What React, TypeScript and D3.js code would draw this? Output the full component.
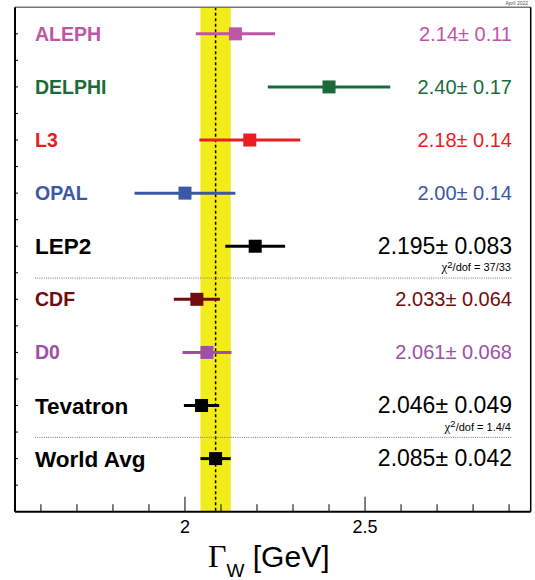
import * as d3 from "d3";

// measurements, top to bottom
const experiments = ["ALEPH", "DELPHI", "L3", "OPAL", "LEP2", "CDF", "D0", "Tevatron", "World Avg"];
const widths = [2.14, 2.4, 2.18, 2.0, 2.195, 2.033, 2.061, 2.046, 2.085];
const errors = [0.11, 0.17, 0.14, 0.14, 0.083, 0.064, 0.068, 0.049, 0.042];
const valueLabels = [
  "2.14± 0.11",
  "2.40± 0.17",
  "2.18± 0.14",
  "2.00± 0.14",
  "2.195± 0.083",
  "2.033± 0.064",
  "2.061± 0.068",
  "2.046± 0.049",
  "2.085± 0.042",
];
const chi2Labels = ["", "", "", "", "37/33", "", "", "1.4/4", ""];
const combined = [false, false, false, false, true, false, false, true, true];
const colors = ["#bf55a8", "#1b6b3a", "#ea1c24", "#3c57a6", "#000000", "#730b0b", "#9e4fa6", "#000000", "#000000"];
const separators = [4.4, 1.4];
const worldAvg = 2.085;
const worldErr = 0.042;
const xTickLabels = [2, 2.5];

const W = 535;
const H = 580;
const left = 15;
const right = 530.7;
const top = 7.3;
const bottom = 511.7;

export default function App() {
  const x = d3.scaleLinear().domain([1.528, 2.96]).range([left, right]);
  const y = d3.scaleLinear().domain([0, 9.5]).range([bottom, top]);
  const rowPos = (i: number) => y(experiments.length - i);

  const minorTicks = d3.range(1.6, 2.95, 0.1).map((v) => Math.round(v * 10) / 10);
  const yTicks = d3.range(0.5, 9.5, 0.5);

  const sans = "'Liberation Sans', Arial, Helvetica, sans-serif";
  const serif = "'Liberation Serif', 'Times New Roman', serif";

  return (
    <svg
      width={W}
      height={H}
      style={{ position: "absolute", left: 0, top: 0, background: "#fff" }}
      fontFamily={sans}
    >
      <rect width={W} height={H} fill="#fff" />
      <text x={528} y={5} fontSize={5} textAnchor="end" fill="#555">
        April 2022
      </text>

      {/* world average band */}
      <rect
        x={x(worldAvg - worldErr)}
        y={top}
        width={x(worldAvg + worldErr) - x(worldAvg - worldErr)}
        height={bottom - top}
        fill="#f3ec1b"
      />
      <line
        x1={x(worldAvg)}
        x2={x(worldAvg)}
        y1={top}
        y2={bottom}
        stroke="#000"
        strokeWidth={1.5}
        strokeDasharray="3,2.5"
      />

      {separators.map((s) => (
        <line
          key={s}
          x1={35}
          x2={512}
          y1={y(s)}
          y2={y(s)}
          stroke="#777"
          strokeWidth={1}
          strokeDasharray="1,1.2"
        />
      ))}

      {experiments.map((name, i) => {
        const cy = rowPos(i);
        const big = combined[i];
        return (
          <g key={name}>
            <line
              x1={x(widths[i] - errors[i])}
              x2={x(widths[i] + errors[i])}
              y1={cy}
              y2={cy}
              stroke={colors[i]}
              strokeWidth={3}
            />
            <rect x={x(widths[i]) - 6.5} y={cy - 6.5} width={13} height={13} fill={colors[i]} />
            <text
              x={35}
              y={cy}
              dy="0.36em"
              fontWeight="bold"
              fontSize={big ? 22.5 : 19.5}
              fill={colors[i]}
            >
              {name}
            </text>
            <text x={512} y={cy} dy="0.34em" fontSize={big ? 23 : 20} textAnchor="end" fill={colors[i]}>
              {valueLabels[i]}
            </text>
            {chi2Labels[i] && (
              <text x={511} y={cy + 25} textAnchor="end" fontSize={11} fill="#000">
                <tspan fontFamily={serif} fontSize={13}>
                  χ
                </tspan>
                <tspan dy={-3.5} fontSize={9.5}>
                  2
                </tspan>
                <tspan dy={3.5}>{"/dof = " + chi2Labels[i]}</tspan>
              </text>
            )}
          </g>
        );
      })}

      {/* axes ticks */}
      {minorTicks.map((t) => (
        <line
          key={t}
          x1={x(t)}
          x2={x(t)}
          y1={bottom}
          y2={bottom - (xTickLabels.includes(t) ? 15 : 7.5)}
          stroke="#000"
          strokeWidth={1}
        />
      ))}
      {yTicks.map((t) => (
        <line key={t} x1={left} x2={left + 3} y1={y(t)} y2={y(t)} stroke="#000" strokeWidth={1} />
      ))}
      {xTickLabels.map((t) => (
        <text key={t} x={x(t)} y={533} fontSize={18} textAnchor="middle" fill="#000">
          {t}
        </text>
      ))}

      {/* frame */}
      <line x1={left} x2={right} y1={top} y2={top} stroke="#777" strokeWidth={1.5} />
      <line x1={right} x2={right} y1={top} y2={bottom} stroke="#000" strokeWidth={1.5} />
      <line x1={left} x2={left} y1={top} y2={bottom} stroke="#000" strokeWidth={2} />
      <line x1={left} x2={right} y1={bottom} y2={bottom} stroke="#000" strokeWidth={2} />

      {/* axis title */}
      <text x={208} y={567} fill="#000">
        <tspan fontFamily={serif} fontSize={32}>
          Γ
        </tspan>
        <tspan fontSize={19} dy={10}>
          W
        </tspan>
        <tspan fontSize={30} dy={-10}>
          {" [GeV]"}
        </tspan>
      </text>
    </svg>
  );
}
